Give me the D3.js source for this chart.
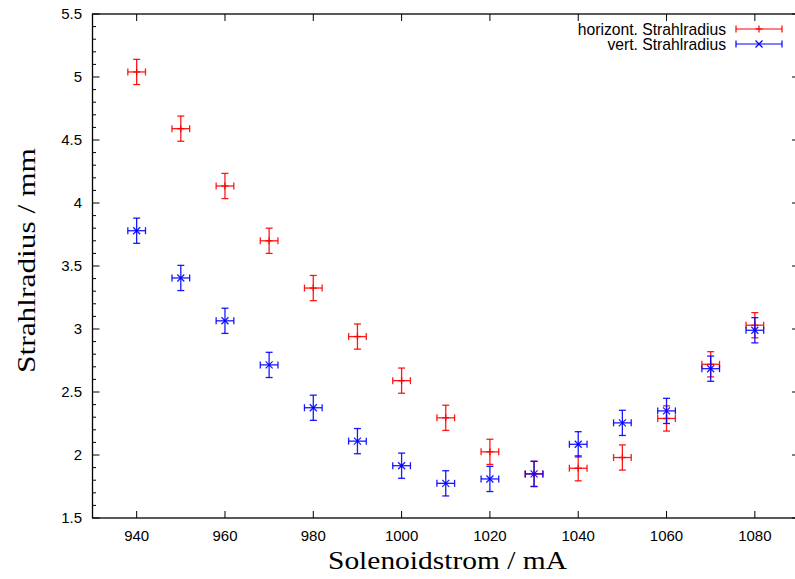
<!DOCTYPE html>
<html><head><meta charset="utf-8">
<script src="https://cdn.jsdelivr.net/npm/d3@7"></script>
<style>body{margin:0;background:#fff}</style>
</head><body>
<script>
const currents = [940,950,960,970,980,990,1000,1010,1020,1030,1040,1050,1060,1070,1080];
const horizRadius = [5.04,4.59,4.135,3.70,3.325,2.94,2.59,2.295,2.025,1.85,1.895,1.98,2.29,2.72,3.03];
const vertRadius = [3.78,3.405,3.065,2.715,2.375,2.11,1.915,1.775,1.81,1.85,2.085,2.255,2.35,2.685,2.99];
const xErr = 2, yErr = 0.1;
const xTicks = [940,960,980,1000,1020,1040,1060,1080];
const yTicks = [1.5,2,2.5,3,3.5,4,4.5,5,5.5];
const seriesNames = ["horizont. Strahlradius","vert. Strahlradius"];
const seriesColors = ["#ff0000","#0000ff"];

const W=795,H=579;
const L=92.5,R=799,T=14,B=518;
const svg=d3.select("body").append("svg").attr("width",W).attr("height",H);
const x=d3.scaleLinear().domain([930,1090]).range([L,R]);
const y=d3.scaleLinear().domain([1.5,5.5]).range([B,T]);

// frame
svg.append("rect").attr("x",L).attr("y",T).attr("width",R-L).attr("height",B-T)
  .attr("fill","none").attr("stroke","#000").attr("stroke-width",1.3);

const minorY = d3.range(15,56).map(v=>v/10).filter(v=>Math.abs(v*2-Math.round(v*2))>1e-6);
const g=svg.append("g").attr("stroke","#000").attr("stroke-width",1);
yTicks.forEach(v=>{
  g.append("line").attr("x1",L).attr("x2",L+7).attr("y1",y(v)).attr("y2",y(v));
  g.append("line").attr("x1",R).attr("x2",R-7).attr("y1",y(v)).attr("y2",y(v));
});
minorY.forEach(v=>{
  g.append("line").attr("x1",L).attr("x2",L+3.5).attr("y1",y(v)).attr("y2",y(v));
  g.append("line").attr("x1",R).attr("x2",R-3.5).attr("y1",y(v)).attr("y2",y(v));
});
xTicks.forEach(v=>{
  g.append("line").attr("x1",x(v)).attr("x2",x(v)).attr("y1",B).attr("y2",B-7);
  g.append("line").attr("x1",x(v)).attr("x2",x(v)).attr("y1",T).attr("y2",T+7);
});

const tf="'Liberation Sans', Arial, sans-serif";
svg.append("g").selectAll("text").data(yTicks).join("text")
  .attr("x",L-10.5).attr("y",d=>y(d)+5.3).attr("text-anchor","end")
  .attr("font-family",tf).attr("font-size",15).text(d=>d);
svg.append("g").selectAll("text").data(xTicks).join("text")
  .attr("x",d=>x(d)).attr("y",B+22.5).attr("text-anchor","middle")
  .attr("font-family",tf).attr("font-size",15).text(d=>d);

const sf="'Liberation Serif','DejaVu Serif',serif";
svg.append("text").attr("x",328).attr("y",569)
  .attr("font-family",sf).attr("font-size",26)
  .attr("textLength",239).attr("lengthAdjust","spacingAndGlyphs").text("Solenoidstrom / mA");
svg.append("text").attr("transform","translate(35,373) rotate(-90)")
  .attr("font-family",sf).attr("font-size",26)
  .attr("textLength",225).attr("lengthAdjust","spacingAndGlyphs").text("Strahlradius / mm");

function drawSeries(vals,color,marker){
  const gs=svg.append("g").attr("stroke",color).attr("stroke-width",1.3).attr("fill","none").attr("stroke-opacity",0.9);
  currents.forEach((c,i)=>{
    const cx=x(c),cy=y(vals[i]);
    const x0=x(c-xErr),x1=x(c+xErr),y0=y(vals[i]-yErr),y1=y(vals[i]+yErr);
    gs.append("line").attr("x1",cx).attr("x2",cx).attr("y1",y0).attr("y2",y1);
    gs.append("line").attr("x1",cx-3.5).attr("x2",cx+3.5).attr("y1",y0).attr("y2",y0);
    gs.append("line").attr("x1",cx-3.5).attr("x2",cx+3.5).attr("y1",y1).attr("y2",y1);
    gs.append("line").attr("x1",x0).attr("x2",x1).attr("y1",cy).attr("y2",cy);
    gs.append("line").attr("x1",x0).attr("x2",x0).attr("y1",cy-3.5).attr("y2",cy+3.5);
    gs.append("line").attr("x1",x1).attr("x2",x1).attr("y1",cy-3.5).attr("y2",cy+3.5);
    drawMarker(gs,cx,cy,marker);
  });
}
function drawMarker(gs,cx,cy,m){
  const s=3.5;
  if(m==="+"){
    gs.append("line").attr("x1",cx-s).attr("x2",cx+s).attr("y1",cy).attr("y2",cy);
    gs.append("line").attr("x1",cx).attr("x2",cx).attr("y1",cy-s).attr("y2",cy+s);
  } else {
    gs.append("line").attr("x1",cx-s).attr("x2",cx+s).attr("y1",cy-s).attr("y2",cy+s);
    gs.append("line").attr("x1",cx-s).attr("x2",cx+s).attr("y1",cy+s).attr("y2",cy-s);
  }
}
drawSeries(horizRadius,seriesColors[0],"+");
drawSeries(vertRadius,seriesColors[1],"x");

// legend
const legY=[29,44];
seriesNames.forEach((n,i)=>{
  svg.append("text").attr("x",726).attr("y",legY[i]+5.5).attr("text-anchor","end")
    .attr("font-family",tf).attr("font-size",15.7).text(n);
  const gl=svg.append("g").attr("stroke",seriesColors[i]).attr("stroke-width",1.2);
  gl.append("line").attr("x1",736).attr("x2",782).attr("y1",legY[i]).attr("y2",legY[i]);
  gl.append("line").attr("x1",736).attr("x2",736).attr("y1",legY[i]-3.5).attr("y2",legY[i]+3.5);
  gl.append("line").attr("x1",782).attr("x2",782).attr("y1",legY[i]-3.5).attr("y2",legY[i]+3.5);
  drawMarker(gl,759,legY[i],i===0?"+":"x");
});
</script>
</body></html>
